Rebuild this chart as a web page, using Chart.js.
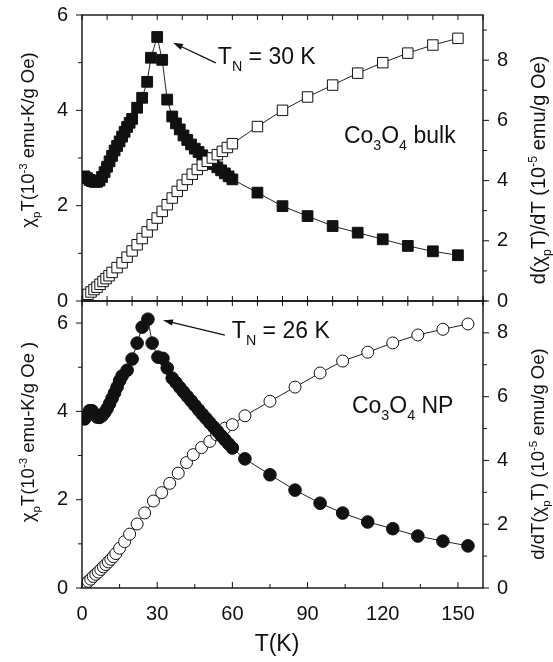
<!DOCTYPE html>
<html>
<head>
<meta charset="utf-8">
<script src="https://cdn.jsdelivr.net/npm/chart.js@4.4.0/dist/chart.umd.min.js"></script>
<style>
  body { margin: 0; background: #fff; }
  #wrap { position: relative; width: 553px; height: 662px; }
  canvas { position: absolute; left: 0; }
  #top { top: 0; }
  #bot { top: 286px; }
</style>
</head>
<body>
<div id="wrap">
  <canvas id="top" width="553" height="313" style="width:553px;height:313px"></canvas>
  <canvas id="bot" width="553" height="376" style="width:553px;height:376px"></canvas>
</div>
<script>
// Co3O4 bulk: chi_p*T (open squares, left axis)
const bulkChiT = [1.2,2.4,3.6,4.8,6,7.2,8.4,9.6,10.8,12,14,16,18,20,22,24,26,28,30,32,34,36,38,40,42,44,46,48,50,52,54,56,58,60,70,80,90,100,110,120,130,140,150];
const bulkChi = [0.1,0.14,0.19,0.24,0.29,0.35,0.41,0.47,0.53,0.6,0.7,0.8,0.92,1.05,1.18,1.31,1.45,1.6,1.74,1.88,2.02,2.16,2.3,2.43,2.55,2.66,2.76,2.85,2.93,3.0,3.07,3.14,3.22,3.3,3.66,4.0,4.28,4.53,4.78,5.0,5.2,5.37,5.51];
// Co3O4 bulk: d(chi_p T)/dT (filled squares, right axis)
const bulkDerT = [1,2,3,4,5,6,7,8,9,10,11,12,13,14,15,16,17,18,19,20,22,24,26,27.5,30,32,34,36,37.5,39,40.5,42,43.5,45,46.5,48,49.5,51,52.5,54,55.5,57,58.5,60,70,80,90,100,110,120,130,140,150];
const bulkDer = [4.14,4.08,4.02,3.98,3.96,3.96,4.0,4.12,4.28,4.46,4.64,4.82,5.0,5.15,5.3,5.46,5.62,5.78,5.92,6.05,6.42,6.75,7.28,8.08,8.77,8.01,6.69,6.13,5.9,5.7,5.5,5.35,5.2,5.06,4.95,4.84,4.74,4.64,4.55,4.44,4.34,4.24,4.14,4.04,3.6,3.15,2.82,2.49,2.27,2.05,1.83,1.65,1.52];
// Co3O4 NP: chi_p*T (open circles, left axis)
const npChiT = [0.5,1.5,2.5,3.5,4.5,5.5,6.5,7.5,8.5,9.5,10.5,11.5,12.5,13.5,15,17,19,22,25,28.5,31.8,35,38.4,41.7,44.4,47.7,51,53.7,57,60,65,75,85,95,104,114,124,134,144,154];
const npChi = [0.04,0.1,0.15,0.2,0.26,0.31,0.36,0.42,0.48,0.53,0.59,0.65,0.71,0.78,0.9,1.05,1.22,1.45,1.7,1.97,2.16,2.37,2.6,2.84,3.02,3.18,3.32,3.47,3.62,3.7,3.9,4.23,4.55,4.87,5.14,5.34,5.55,5.73,5.86,5.98];
// Co3O4 NP: d/dT(chi_p T) (filled circles, right axis)
const npDerT = [1,2,3,4,5,6,7,8,9,10,11,12,13,14,15,16,18,20,22,24,26.3,28,30.3,32.3,34,36,37.5,39,40.5,42,43.5,45,46.5,48,49.5,51,52.5,54,55.5,57,58.5,60,65,75,85,95,104,114,124,134,144,154];
const npDer = [5.3,5.4,5.56,5.56,5.45,5.36,5.35,5.4,5.5,5.62,5.78,5.95,6.12,6.3,6.5,6.65,6.83,7.18,7.68,8.18,8.43,7.68,7.24,7.2,6.9,6.58,6.44,6.29,6.15,6.01,5.87,5.73,5.59,5.45,5.32,5.18,5.05,4.92,4.78,4.65,4.52,4.39,4.05,3.55,3.07,2.66,2.35,2.07,1.86,1.63,1.47,1.32];

const xTicks = [0,30,60,90,120,150];
const chiTicks = [0,2,4,6];
const derTicks = [0,2,4,6,8];

const FONT = '"Liberation Sans", Arial, Helvetica, sans-serif';
const INK = '#111';

function pts(xs, ys) {
  return xs.map((x, i) => ({x: x, y: ys[i]}));
}

// parts: [text, 0 normal | 1 sub | 2 sup]
function rich(ctx, parts, x, y, size, align) {
  let w = 0;
  const items = parts.map(p => {
    const s = p[1] ? size * 0.62 : size;
    ctx.font = s + 'px ' + FONT;
    const tw = ctx.measureText(p[0]).width;
    w += tw;
    return {t: p[0], m: p[1], s: s, tw: tw};
  });
  let cx = align === 'center' ? x - w / 2 : x;
  ctx.textAlign = 'left';
  ctx.textBaseline = 'alphabetic';
  items.forEach(it => {
    ctx.font = it.s + 'px ' + FONT;
    const dy = it.m === 1 ? size * 0.3 : it.m === 2 ? -size * 0.42 : 0;
    ctx.fillText(it.t, cx, y + dy);
    cx += it.tw;
  });
}

function vTitle(ctx, parts, cx, cy, size) {
  ctx.save();
  ctx.translate(cx, cy);
  ctx.rotate(-Math.PI / 2);
  rich(ctx, parts, 0, size * 0.35, size, 'center');
  ctx.restore();
}

function arrow(ctx, x1, y1, x2, y2) {
  const ang = Math.atan2(y2 - y1, x2 - x1);
  ctx.beginPath();
  ctx.moveTo(x1, y1);
  ctx.lineTo(x2 - 6 * Math.cos(ang), y2 - 6 * Math.sin(ang));
  ctx.lineWidth = 1.3;
  ctx.stroke();
  ctx.beginPath();
  ctx.moveTo(x2, y2);
  ctx.lineTo(x2 - 10 * Math.cos(ang) + 3.2 * Math.sin(ang), y2 - 10 * Math.sin(ang) - 3.2 * Math.cos(ang));
  ctx.lineTo(x2 - 10 * Math.cos(ang) - 3.2 * Math.sin(ang), y2 - 10 * Math.sin(ang) + 3.2 * Math.cos(ang));
  ctx.closePath();
  ctx.fill();
}

function decor(cfg) {
  return {
    id: 'decor',
    afterDraw(chart) {
      const ctx = chart.ctx, a = chart.chartArea;
      const x = chart.scales.x, yl = chart.scales.y, yr = chart.scales.y2;
      ctx.save();
      ctx.strokeStyle = INK;
      ctx.fillStyle = INK;

      // x ticks, pointing inward
      ctx.lineWidth = 1;
      ctx.beginPath();
      for (let v = 0; v <= 160; v += cfg.topStep) {
        const px = x.getPixelForValue(v);
        ctx.moveTo(px, a.top);
        ctx.lineTo(px, a.top + 5);
      }
      for (let v = 0; v <= 160; v += cfg.botStep) {
        const px = x.getPixelForValue(v);
        const len = cfg.botStep === 15 ? (v % 30 === 0 ? 6 : 4) : 5;
        ctx.moveTo(px, a.bottom);
        ctx.lineTo(px, a.bottom - len);
      }
      // y ticks, pointing outward
      for (let v = 0; v <= yl.max; v += 1) {
        const py = yl.getPixelForValue(v);
        ctx.moveTo(a.left - (v % 2 === 0 ? 6 : 4), py);
        ctx.lineTo(a.left, py);
      }
      for (let v = 0; v <= yr.max; v += 1) {
        const py = yr.getPixelForValue(v);
        ctx.moveTo(a.right, py);
        ctx.lineTo(a.right + (v % 2 === 0 ? 6 : 4), py);
      }
      ctx.stroke();

      // frame
      ctx.lineWidth = 1.4;
      ctx.strokeRect(a.left, a.top, a.right - a.left, a.bottom - a.top);

      // axis titles
      vTitle(ctx, cfg.leftTitle, 28, cfg.leftY, 18.5);
      vTitle(ctx, cfg.rightTitle, 538, cfg.rightY, cfg.rightSize);
      if (cfg.xTitle) {
        rich(ctx, [['T(K)', 0]], 277, cfg.xTitleY, 23, 'center');
      }

      // annotations (placed in data units)
      const n = cfg.note;
      arrow(ctx, x.getPixelForValue(n.from[0]), yr.getPixelForValue(n.from[1]),
                 x.getPixelForValue(n.to[0]), yr.getPixelForValue(n.to[1]));
      rich(ctx, n.text, x.getPixelForValue(n.at[0]), yr.getPixelForValue(n.at[1]), 23, 'left');
      const s = cfg.sample;
      rich(ctx, s.text, x.getPixelForValue(s.at[0]), yr.getPixelForValue(s.at[1]), 23, 'left');
      ctx.restore();
    }
  };
}

function fixTicks(list) {
  return function (scale) {
    scale.ticks = list.map(v => ({value: v}));
  };
}

function makeChart(id, o) {
  const tickFont = {family: FONT, size: 20};
  return new Chart(document.getElementById(id), {
    type: 'scatter',
    data: {datasets: o.datasets},
    options: {
      responsive: false,
      animation: false,
      events: [],
      layout: {padding: o.padding},
      plugins: {legend: {display: false}, tooltip: {enabled: false}},
      scales: {
        x: {
          type: 'linear', min: 0, max: 160,
          display: true,
          afterBuildTicks: fixTicks(xTicks),
          afterFit: s => { s.height = o.showX ? 74 : 0; },
          grid: {display: false, drawTicks: true, tickLength: 14},
          border: {display: false},
          ticks: {display: o.showX, font: tickFont, color: INK, padding: 0, maxRotation: 0}
        },
        y: {
          type: 'linear', position: 'left', min: 0, max: o.leftMax,
          afterBuildTicks: fixTicks(chiTicks),
          afterFit: s => { s.width = 82; },
          grid: {display: false, drawTicks: true, tickLength: 14},
          border: {display: false},
          ticks: {font: tickFont, color: INK, padding: 0}
        },
        y2: {
          type: 'linear', position: 'right', min: 0, max: o.rightMax,
          afterBuildTicks: fixTicks(derTicks),
          afterFit: s => { s.width = 70; },
          grid: {display: false, drawTicks: true, tickLength: 14},
          border: {display: false},
          ticks: {font: tickFont, color: INK, padding: 0}
        }
      }
    },
    plugins: [decor(o.decor)]
  });
}

const lineStyle = {showLine: true, borderColor: '#222', borderWidth: 1, pointBorderColor: INK, pointBorderWidth: 1};

makeChart('top', {
  padding: {top: 15, bottom: 12, left: 0, right: 0},
  showX: false,
  leftMax: 6,
  rightMax: 9.5,
  datasets: [
    Object.assign({data: pts(bulkDerT, bulkDer), yAxisID: 'y2', pointStyle: 'rect', pointRadius: 7.6,
      pointBackgroundColor: INK, order: 2}, lineStyle),
    Object.assign({data: pts(bulkChiT, bulkChi), yAxisID: 'y', pointStyle: 'rect', pointRadius: 7.4,
      pointBackgroundColor: '#fff', order: 1}, lineStyle)
  ],
  decor: {
    topStep: 10, botStep: 10,
    leftTitle: [['\u03c7', 0], ['p', 1], ['T(10', 0], ['-3', 2], [' emu-K/g Oe)', 0]],
    leftY: 140,
    rightTitle: [['d(\u03c7', 0], ['p', 1], ['T)/dT (10', 0], ['-5', 2], [' emu/g Oe)', 0]],
    rightY: 170,
    rightSize: 20,
    note: {text: [['T', 0], ['N', 1], [' = 30 K', 0]], at: [54.2, 7.88], from: [53.4, 7.91], to: [36.3, 8.58]},
    sample: {text: [['Co', 0], ['3', 1], ['O', 0], ['4', 1], [' bulk', 0]], at: [104.5, 5.26]}
  }
});

makeChart('bot', {
  padding: {top: 15, bottom: 0, left: 0, right: 0},
  showX: true,
  leftMax: 6.5,
  rightMax: 9,
  datasets: [
    Object.assign({data: pts(npDerT, npDer), yAxisID: 'y2', pointStyle: 'circle', pointRadius: 6.3,
      pointBackgroundColor: INK, order: 1}, lineStyle),
    Object.assign({data: pts(npChiT, npChi), yAxisID: 'y', pointStyle: 'circle', pointRadius: 6,
      pointBackgroundColor: '#fff', order: 2}, lineStyle)
  ],
  decor: {
    topStep: 10, botStep: 15,
    leftTitle: [['\u03c7', 0], ['p', 1], ['T(10', 0], ['-3', 2], [' emu-K/g Oe )', 0]],
    leftY: 146,
    rightTitle: [['d/dT(\u03c7', 0], ['p', 1], ['T) (10', 0], ['-5', 2], [' emu/g Oe)', 0]],
    rightY: 168,
    rightSize: 18.5,
    xTitle: true,
    xTitleY: 365,
    note: {text: [['T', 0], ['N', 1], [' = 26 K', 0]], at: [59.8, 7.84], from: [57, 7.93], to: [32.3, 8.4]},
    sample: {text: [['Co', 0], ['3', 1], ['O', 0], ['4', 1], [' NP', 0]], at: [107.7, 5.49]}
  }
});
</script>
</body>
</html>
